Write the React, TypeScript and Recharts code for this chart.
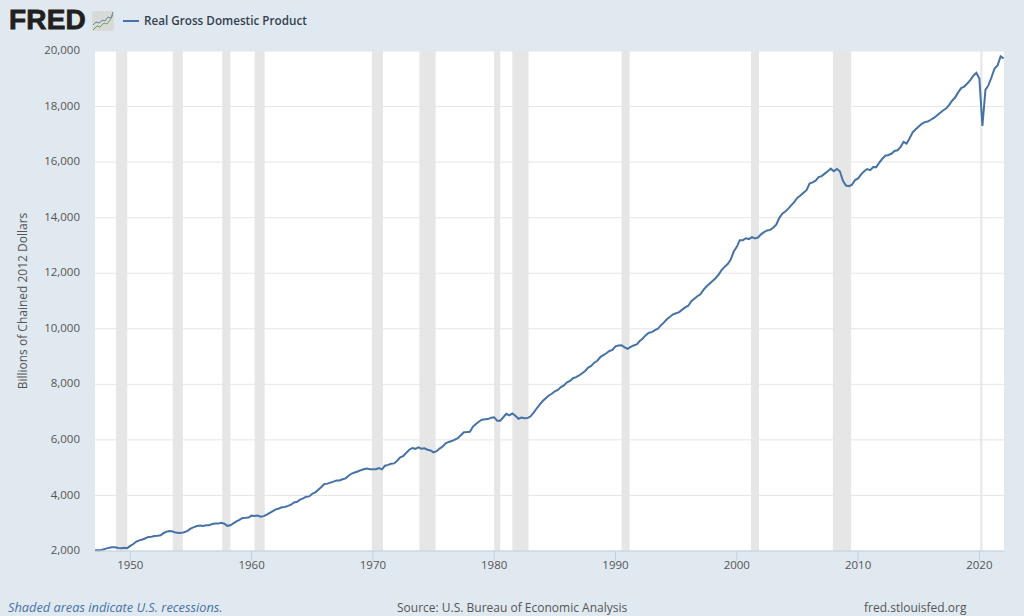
import React from "react";
import {
  ComposedChart,
  Line,
  XAxis,
  YAxis,
  CartesianGrid,
  ReferenceArea,
} from "recharts";

// Quarterly values, billions of chained 2012 dollars, starting 1947 Q1
const gdpValues: number[] = [
  2033, 2028, 2023, 2055, 2086, 2120, 2133, 2135, 2106, 2098, 2120, 2102,
  2185, 2252, 2339, 2383, 2416, 2458, 2508, 2514, 2541, 2546, 2564, 2649,
  2698, 2719, 2703, 2662, 2650, 2653, 2683, 2735, 2813, 2859, 2898, 2915,
  2904, 2928, 2925, 2973, 2992, 2986, 3015, 2984, 2906, 2925, 2993, 3063,
  3122, 3192, 3195, 3204, 3276, 3258, 3274, 3232, 3254, 3309, 3373, 3439,
  3500, 3532, 3575, 3587, 3626, 3667, 3747, 3772, 3851, 3893, 3954, 3966,
  4062, 4114, 4205, 4305, 4410, 4425, 4462, 4499, 4539, 4541, 4582, 4615,
  4709, 4788, 4825, 4862, 4910, 4942, 4973, 4947, 4939, 4947, 4982, 4938,
  5072, 5100, 5142, 5154, 5249, 5368, 5418, 5531, 5647, 5708, 5678, 5731,
  5682, 5696, 5645, 5621, 5551, 5591, 5687, 5761, 5878, 5926, 5957, 6008,
  6061, 6166, 6277, 6280, 6292, 6478, 6574, 6663, 6729, 6741, 6749, 6799,
  6816, 6688, 6688, 6814, 6937, 6881, 6955, 6870, 6762, 6805, 6780, 6787,
  6850, 6985, 7130, 7270, 7400, 7500, 7600, 7660, 7750, 7800, 7900, 7960,
  8070, 8120, 8220, 8260, 8320, 8400, 8480, 8600, 8660, 8780, 8850, 8980,
  9050, 9120, 9200, 9240, 9370, 9400, 9410, 9330, 9280, 9350, 9400, 9440,
  9560, 9650, 9770, 9860, 9880, 9950, 10000, 10130, 10230, 10350, 10430, 10520,
  10560, 10600, 10690, 10770, 10830, 10990, 11080, 11170, 11240, 11400, 11520, 11620,
  11720, 11820, 11950, 12110, 12230, 12330, 12490, 12780, 12950, 13190, 13190, 13260,
  13230, 13300, 13250, 13285, 13400, 13480, 13540, 13560,
  13635, 13750, 13985, 14145, 14220, 14325, 14450, 14570, 14720, 14800, 14900, 14990,
  15230, 15270, 15330, 15460, 15495, 15585, 15670, 15765, 15670, 15750, 15670, 15330,
  15155, 15135, 15190, 15355, 15415, 15560, 15670, 15750, 15710, 15825, 15820, 15985,
  16120, 16230, 16255, 16300, 16400, 16425, 16540, 16730, 16665, 16860, 17075, 17185,
  17285, 17380, 17440, 17460, 17525, 17590, 17680, 17770, 17860, 17930, 18050, 18210,
  18325, 18510, 18665, 18720, 18830, 18950, 19110, 19215, 19010, 17300, 18600, 18770,
  19055, 19370, 19480, 19805, 19730,
];

const yearTicks = [1950, 1960, 1970, 1980, 1990, 2000, 2010, 2020];
const valueTicks = [2000, 4000, 6000, 8000, 10000, 12000, 14000, 16000, 18000, 20000];

// Recession start and end, as decimal years
const recessionStarts = [1948.83, 1953.5, 1957.58, 1960.25, 1969.92, 1973.83, 1980.0, 1981.5, 1990.5, 2001.17, 2007.92, 2020.08];
const recessionEnds = [1949.75, 1954.33, 1958.25, 1961.08, 1970.83, 1975.17, 1980.5, 1982.83, 1991.17, 2001.83, 2009.42, 2020.25];

const chartData = gdpValues.map((gdp, i) => ({ date: 1947 + i / 4, gdp }));

const FONT = '"Open Sans", sans-serif';
const BG_COLOR = "#e1e9f0";
const LINE_COLOR = "#4572a7";

const footStyle: React.CSSProperties = {
  position: "absolute",
  top: 599,
  fontFamily: FONT,
  fontSize: 12,
  lineHeight: "17px",
  color: "#555555",
  whiteSpace: "nowrap",
};

const Logo = () => (
  <div style={{ position: "absolute", left: 0, top: 0 }}>
    <div
      style={{
        position: "absolute",
        left: 9,
        top: 4,
        fontFamily: '"Liberation Sans", sans-serif',
        fontWeight: 700,
        fontSize: 28,
        lineHeight: "32px",
        letterSpacing: 0.2,
        color: "#231f20",
        WebkitTextStroke: "0.8px #231f20",
      }}
    >
      FRED
    </div>
    <svg width={24} height={22} style={{ position: "absolute", left: 91, top: 10 }}>
      <rect x={1} y={1} width={22} height={20} rx={2} fill="#d8dad8" />
      <polyline points="2,15 5,12 8,13 12,10 14,11 17,7 20,8 22,2" fill="none" stroke="#5f86ab" strokeWidth={1} />
      <polyline points="2,20 6,16 9,17 13,13 16,14 19,10 22,5" fill="none" stroke="#7a9c4e" strokeWidth={1} />
    </svg>
  </div>
);

export default function App() {
  return (
    <div
      style={{
        position: "absolute",
        left: 0,
        top: 0,
        width: 1024,
        height: 616,
        overflow: "hidden",
        background: BG_COLOR,
      }}
    >
      <ComposedChart
        width={1024}
        height={616}
        data={chartData}
        margin={{ top: 51, right: 20, bottom: 0, left: 0 }}
      >
        <CartesianGrid vertical={false} stroke="#e6e6e6" fill="#ffffff" horizontalValues={valueTicks} />
        <XAxis
          type="number"
          dataKey="date"
          domain={[1947.09, 2022.03]}
          allowDataOverflow
          ticks={yearTicks}
          height={65}
          interval={0}
          stroke="#c0d0e0"
          tickSize={10}
          tickMargin={0}
          tick={{ fill: "#555555", fontSize: 11.5, fontFamily: FONT }}
        />
        <YAxis
          type="number"
          domain={[2000, 20000]}
          ticks={valueTicks}
          width={95}
          axisLine={false}
          tickLine={false}
          tickSize={0}
          tickMargin={15}
          interval={0}
          tickFormatter={(v: number) => v.toLocaleString("en-US")}
          tick={{ fill: "#555555", fontSize: 11.5, fontFamily: FONT, dy: -1 }}
          label={{
            value: "Billions of Chained 2012 Dollars",
            angle: -90,
            position: "insideLeft",
            offset: 23,
            style: { textAnchor: "middle", fill: "#555555", fontSize: 12, fontFamily: FONT },
          }}
        />
        {recessionStarts.map((start, i) => (
          <ReferenceArea
            key={start}
            x1={start}
            x2={recessionEnds[i]}
            fill="#e6e6e6"
            fillOpacity={1}
            stroke="none"
          />
        ))}
        <Line
          dataKey="gdp"
          type="linear"
          stroke={LINE_COLOR}
          strokeWidth={2}
          dot={false}
          activeDot={false}
          isAnimationActive={false}
        />
      </ComposedChart>

      <Logo />
      <div style={{ position: "absolute", left: 123, top: 20, width: 16, height: 2, background: LINE_COLOR }} />
      <div
        style={{
          position: "absolute",
          left: 144,
          top: 11,
          fontFamily: FONT,
          fontWeight: 600,
          fontSize: 11.7,
          lineHeight: "18px",
          color: "#333f4f",
          whiteSpace: "nowrap",
        }}
      >
        Real Gross Domestic Product
      </div>
      <div style={{ ...footStyle, left: 8, fontSize: 12.8, fontStyle: "italic", color: LINE_COLOR }}>
        Shaded areas indicate U.S. recessions.
      </div>
      <div style={{ ...footStyle, left: 397 }}>Source: U.S. Bureau of Economic Analysis</div>
      <div style={{ ...footStyle, left: 864 }}>fred.stlouisfed.org</div>
    </div>
  );
}
